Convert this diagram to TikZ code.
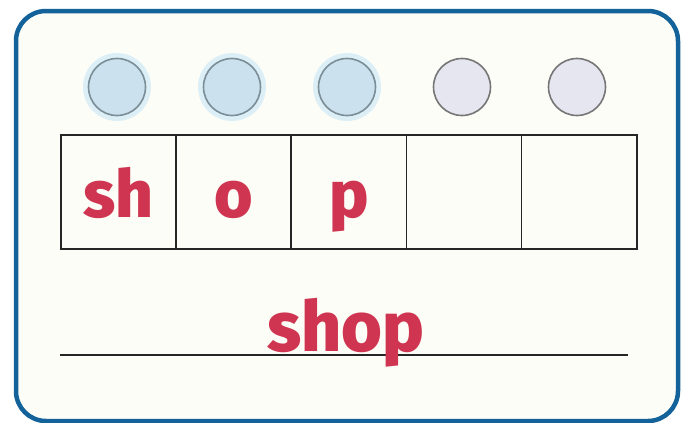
\documentclass[tikz,border=0pt]{standalone}
\usepackage{fontspec}
\setmainfont{Fira Sans}
\newfontfamily\soundfont{Fira Sans}[UprightFont=* ExtraBold]
\usepackage{tikz}
\usetikzlibrary{positioning, calc}
\usepackage{xcolor}
\definecolor{cardblue}{HTML}{13629A}
\definecolor{cardbg}{HTML}{FDFDF8}
\definecolor{soundred}{HTML}{CF3550}
\definecolor{dotfill}{HTML}{CCE1EE}
\definecolor{dothalo}{HTML}{DDEFF6}
\definecolor{dotline}{HTML}{7A8E97}
\definecolor{emptyfill}{HTML}{E5E6EF}
\definecolor{emptyline}{HTML}{767676}
\definecolor{gridline}{HTML}{262626}

\tikzset{
    soundcell/.style={draw=gridline, line width=1.6pt, minimum width=115.2pt, minimum height=114pt, inner sep=0pt, anchor=north west},
    sound/.style={text=soundred, font=\fontsize{66}{66}\soundfont, anchor=base, inner sep=0pt},
    filleddot/.style={circle, draw=dotline, line width=1.6pt, fill=dotfill, minimum size=57pt, inner sep=0pt},
    emptydot/.style={circle, draw=emptyline, line width=1.6pt, fill=emptyfill, minimum size=57pt, inner sep=0pt}
}

\begin{document}
\begin{tikzpicture}[x=1pt, y=-1pt]
    \useasboundingbox (0,0) rectangle (681,423);
    % card
    \draw[draw=cardblue, fill=cardbg, line width=4.5pt, rounded corners=30pt] (16,11) rectangle (678,421);

    % sound dots
    \foreach \i in {1,2,3} {
        \fill[dothalo] ({117+115*(\i-1)},87) circle (34pt);
        \node[filleddot] (d\i) at ({117+115*(\i-1)},87) {};
    }
    \foreach \i in {4,5} {
        \node[emptydot] (d\i) at ({117+115*(\i-1)},87) {};
    }

    % sound boxes
    \foreach \i in {1,...,5} {
        \node[soundcell] (c\i) at ({60+115.2*(\i-1)},134) {};
    }
    \node[sound] (s1) at ($(c1.south)+(0,-32)$) {sh};
    \node[sound] (s2) at ($(c2.south)+(0,-32)$) {o};
    \node[sound] (s3) at ($(c3.south)+(0,-32)$) {p};

    % word and writing line
    \coordinate (lineL) at (60,355);
    \coordinate (lineR) at (628,355);
    \draw[gridline, line width=1.6pt] (lineL) -- (lineR);
    \node[sound, font=\fontsize{70}{70}\soundfont] (word) at (346,351) {shop};
\end{tikzpicture}
\end{document}
